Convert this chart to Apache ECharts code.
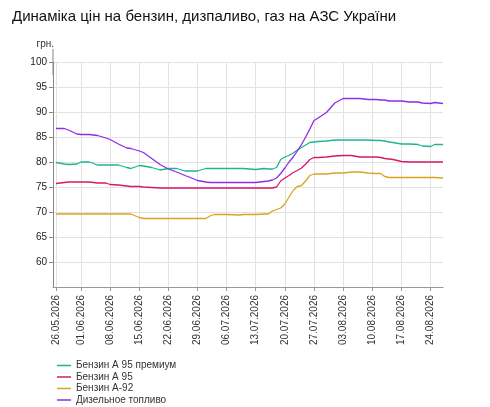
<!DOCTYPE html>
<html lang="uk">
<head>
    <meta charset="UTF-8">
    <title>Динаміка цін на АЗС</title>
    <script src="https://cdn.jsdelivr.net/npm/echarts@6/dist/echarts.min.js"></script>
    <style>html, body { margin: 0; padding: 0; background: #fff; }</style>
</head>
<body>
<div id="main" style="width: 490px; height: 407px;"></div>
<script type="text/javascript">

    // sample dates
    const dates = [
        '2026-05-26', '2026-05-28', '2026-05-29', '2026-05-31', '2026-06-01',
        '2026-06-03', '2026-06-05', '2026-06-07', '2026-06-08', '2026-06-10',
        '2026-06-12', '2026-06-13', '2026-06-15', '2026-06-16', '2026-06-18',
        '2026-06-20', '2026-06-22', '2026-06-24', '2026-06-26', '2026-06-27',
        '2026-06-29', '2026-07-01', '2026-07-02', '2026-07-03', '2026-07-06',
        '2026-07-09', '2026-07-10', '2026-07-13', '2026-07-15', '2026-07-16',
        '2026-07-17', '2026-07-18', '2026-07-19', '2026-07-20', '2026-07-21',
        '2026-07-22', '2026-07-23', '2026-07-24', '2026-07-25', '2026-07-26',
        '2026-07-27', '2026-07-28', '2026-07-30', '2026-08-01', '2026-08-03',
        '2026-08-05', '2026-08-07', '2026-08-09', '2026-08-11', '2026-08-12',
        '2026-08-13', '2026-08-14', '2026-08-15', '2026-08-17', '2026-08-19',
        '2026-08-21', '2026-08-22', '2026-08-24', '2026-08-25', '2026-08-27'
    ]

    const premium = [
        79.9, 79.6, 79.5, 79.6, 80.0,
        80.0, 79.4, 79.4, 79.4, 79.4,
        78.9, 78.7, 79.3, 79.2, 78.9,
        78.4, 78.7, 78.7, 78.2, 78.2,
        78.2, 78.7, 78.7, 78.7, 78.7,
        78.7, 78.7, 78.5, 78.7, 78.6,
        78.6, 78.9, 80.5, 81.0, 81.3,
        81.8, 82.4, 82.9, 83.4, 83.9,
        84.0, 84.1, 84.2, 84.4, 84.4,
        84.4, 84.4, 84.4, 84.3, 84.3,
        84.2, 84.0, 83.9, 83.6, 83.6,
        83.5, 83.2, 83.1, 83.5, 83.5
    ]

    const a95 = [
        75.7, 75.9, 76.0, 76.0, 76.0,
        76.0, 75.8, 75.8, 75.5, 75.4,
        75.2, 75.1, 75.1, 75.0, 74.9,
        74.8, 74.8, 74.8, 74.8, 74.8,
        74.8, 74.8, 74.8, 74.8, 74.8,
        74.8, 74.8, 74.8, 74.8, 74.8,
        74.8, 75.0, 76.2, 76.8, 77.3,
        77.9, 78.3, 78.8, 79.6, 80.5,
        80.9, 80.9, 81.0, 81.2, 81.3,
        81.3, 81.0, 81.0, 81.0, 80.9,
        80.7, 80.6, 80.5, 80.1, 80.0,
        80.0, 80.0, 80.0, 80.0, 80.0
    ]

    const a92 = [
        69.6, 69.6, 69.6, 69.6, 69.6,
        69.6, 69.6, 69.6, 69.6, 69.6,
        69.6, 69.6, 68.9, 68.7, 68.7,
        68.7, 68.7, 68.7, 68.7, 68.7,
        68.7, 68.7, 69.2, 69.5, 69.5,
        69.4, 69.5, 69.5, 69.6, 69.6,
        70.2, 70.5, 70.8, 71.6, 73.0,
        74.3, 75.1, 75.3, 76.2, 77.3,
        77.6, 77.6, 77.6, 77.8, 77.8,
        78.0, 78.0, 77.8, 77.7, 77.7,
        77.1, 76.9, 76.9, 76.9, 76.9,
        76.9, 76.9, 76.9, 76.9, 76.8
    ]

    const diesel = [
        86.7, 86.7, 86.4, 85.6, 85.5,
        85.5, 85.3, 84.8, 84.5, 83.6,
        82.8, 82.7, 82.2, 81.9, 80.7,
        79.5, 78.6, 78.0, 77.3, 77.0,
        76.3, 76.0, 75.9, 75.9, 75.9,
        75.9, 75.9, 75.9, 76.1, 76.2,
        76.4, 76.8, 77.7, 78.8, 80.0,
        81.0, 82.2, 83.5, 85.0, 86.6,
        88.3, 88.8, 89.9, 91.8, 92.7,
        92.7, 92.7, 92.5, 92.5, 92.4,
        92.4, 92.2, 92.2, 92.2, 92.0,
        92.0, 91.8, 91.7, 91.9, 91.7
    ]

    const tickDates = [
        '2026-05-26', '2026-06-01', '2026-06-08', '2026-06-15', '2026-06-22',
        '2026-06-29', '2026-07-06', '2026-07-13', '2026-07-20', '2026-07-27',
        '2026-08-03', '2026-08-10', '2026-08-17', '2026-08-24'
    ]

    const names = ['Бензин А 95 премиум', 'Бензин А 95', 'Бензин А-92', 'Дизельное топливо']
    const colors = ['#1fb392', '#d6186a', '#d9a521', '#8d2de6']
    const values = [premium, a95, a92, diesel]

    const font = '"Liberation Sans", Arial, sans-serif'
    const DAY = 864e5
    const toTime = s => Date.UTC(+s.slice(0, 4), +s.slice(5, 7) - 1, +s.slice(8, 10))
    const ticks = tickDates.map(toTime)

    function pad(n) { return n < 10 ? '0' + n : '' + n }

    let chart = echarts.init(document.getElementById('main'))

    chart.setOption({
        animation: false,
        color: colors,
        textStyle: { fontFamily: font },
        title: {
            text: 'Динаміка цін на бензин, дизпаливо, газ на АЗС України',
            left: 12,
            top: 9,
            padding: 0,
            textStyle: { fontSize: 15, fontWeight: 'normal', color: '#111', fontFamily: font }
        },
        legend: {
            orient: 'vertical',
            left: 57,
            top: 360,
            padding: 0,
            icon: 'rect',
            itemWidth: 14,
            itemHeight: 1.5,
            itemGap: 0.5,
            textStyle: { fontSize: 10, lineHeight: 11, color: '#333', padding: [0, 0, 0, 0] },
            data: names
        },
        grid: { left: 53, right: 47, top: 62, bottom: 120 },
        xAxis: {
            type: 'value',
            min: v => v.min - 0.72 * DAY,
            max: 'dataMax',
            axisLine: { lineStyle: { color: '#999' } },
            axisTick: { show: true, length: 4, customValues: ticks, lineStyle: { color: '#999' } },
            splitLine: { show: true, lineStyle: { color: '#e2e2e2' } },
            axisLabel: {
                customValues: ticks,
                rotate: 90,
                margin: 8,
                fontSize: 10,
                color: '#333',
                formatter: v => {
                    const d = new Date(v)
                    return pad(d.getUTCDate()) + '.' + pad(d.getUTCMonth() + 1) + '.' + d.getUTCFullYear()
                }
            }
        },
        yAxis: {
            type: 'value',
            min: 55,
            max: 100,
            interval: 5,
            name: 'грн.',
            nameLocation: 'end',
            nameGap: 18,
            nameTextStyle: { fontSize: 10, color: '#333', align: 'right', verticalAlign: 'middle', padding: [0, -1, 0, 0] },
            axisLine: {
                show: true,
                lineStyle: { color: '#888' },
                symbol: ['none', 'rect'],
                symbolSize: [1, 26]
            },
            axisTick: { show: true, length: 4, lineStyle: { color: '#888' } },
            splitLine: { lineStyle: { color: '#e2e2e2' } },
            axisLabel: { showMinLabel: false, fontSize: 10, color: '#222', margin: 6 }
        },
        series: names.map((name, i) => ({
            name: name,
            type: 'line',
            showSymbol: false,
            lineStyle: { width: 1.3 },
            data: dates.map((d, j) => [toTime(d), values[i][j]])
        }))
    })

</script>
</body>
</html>
